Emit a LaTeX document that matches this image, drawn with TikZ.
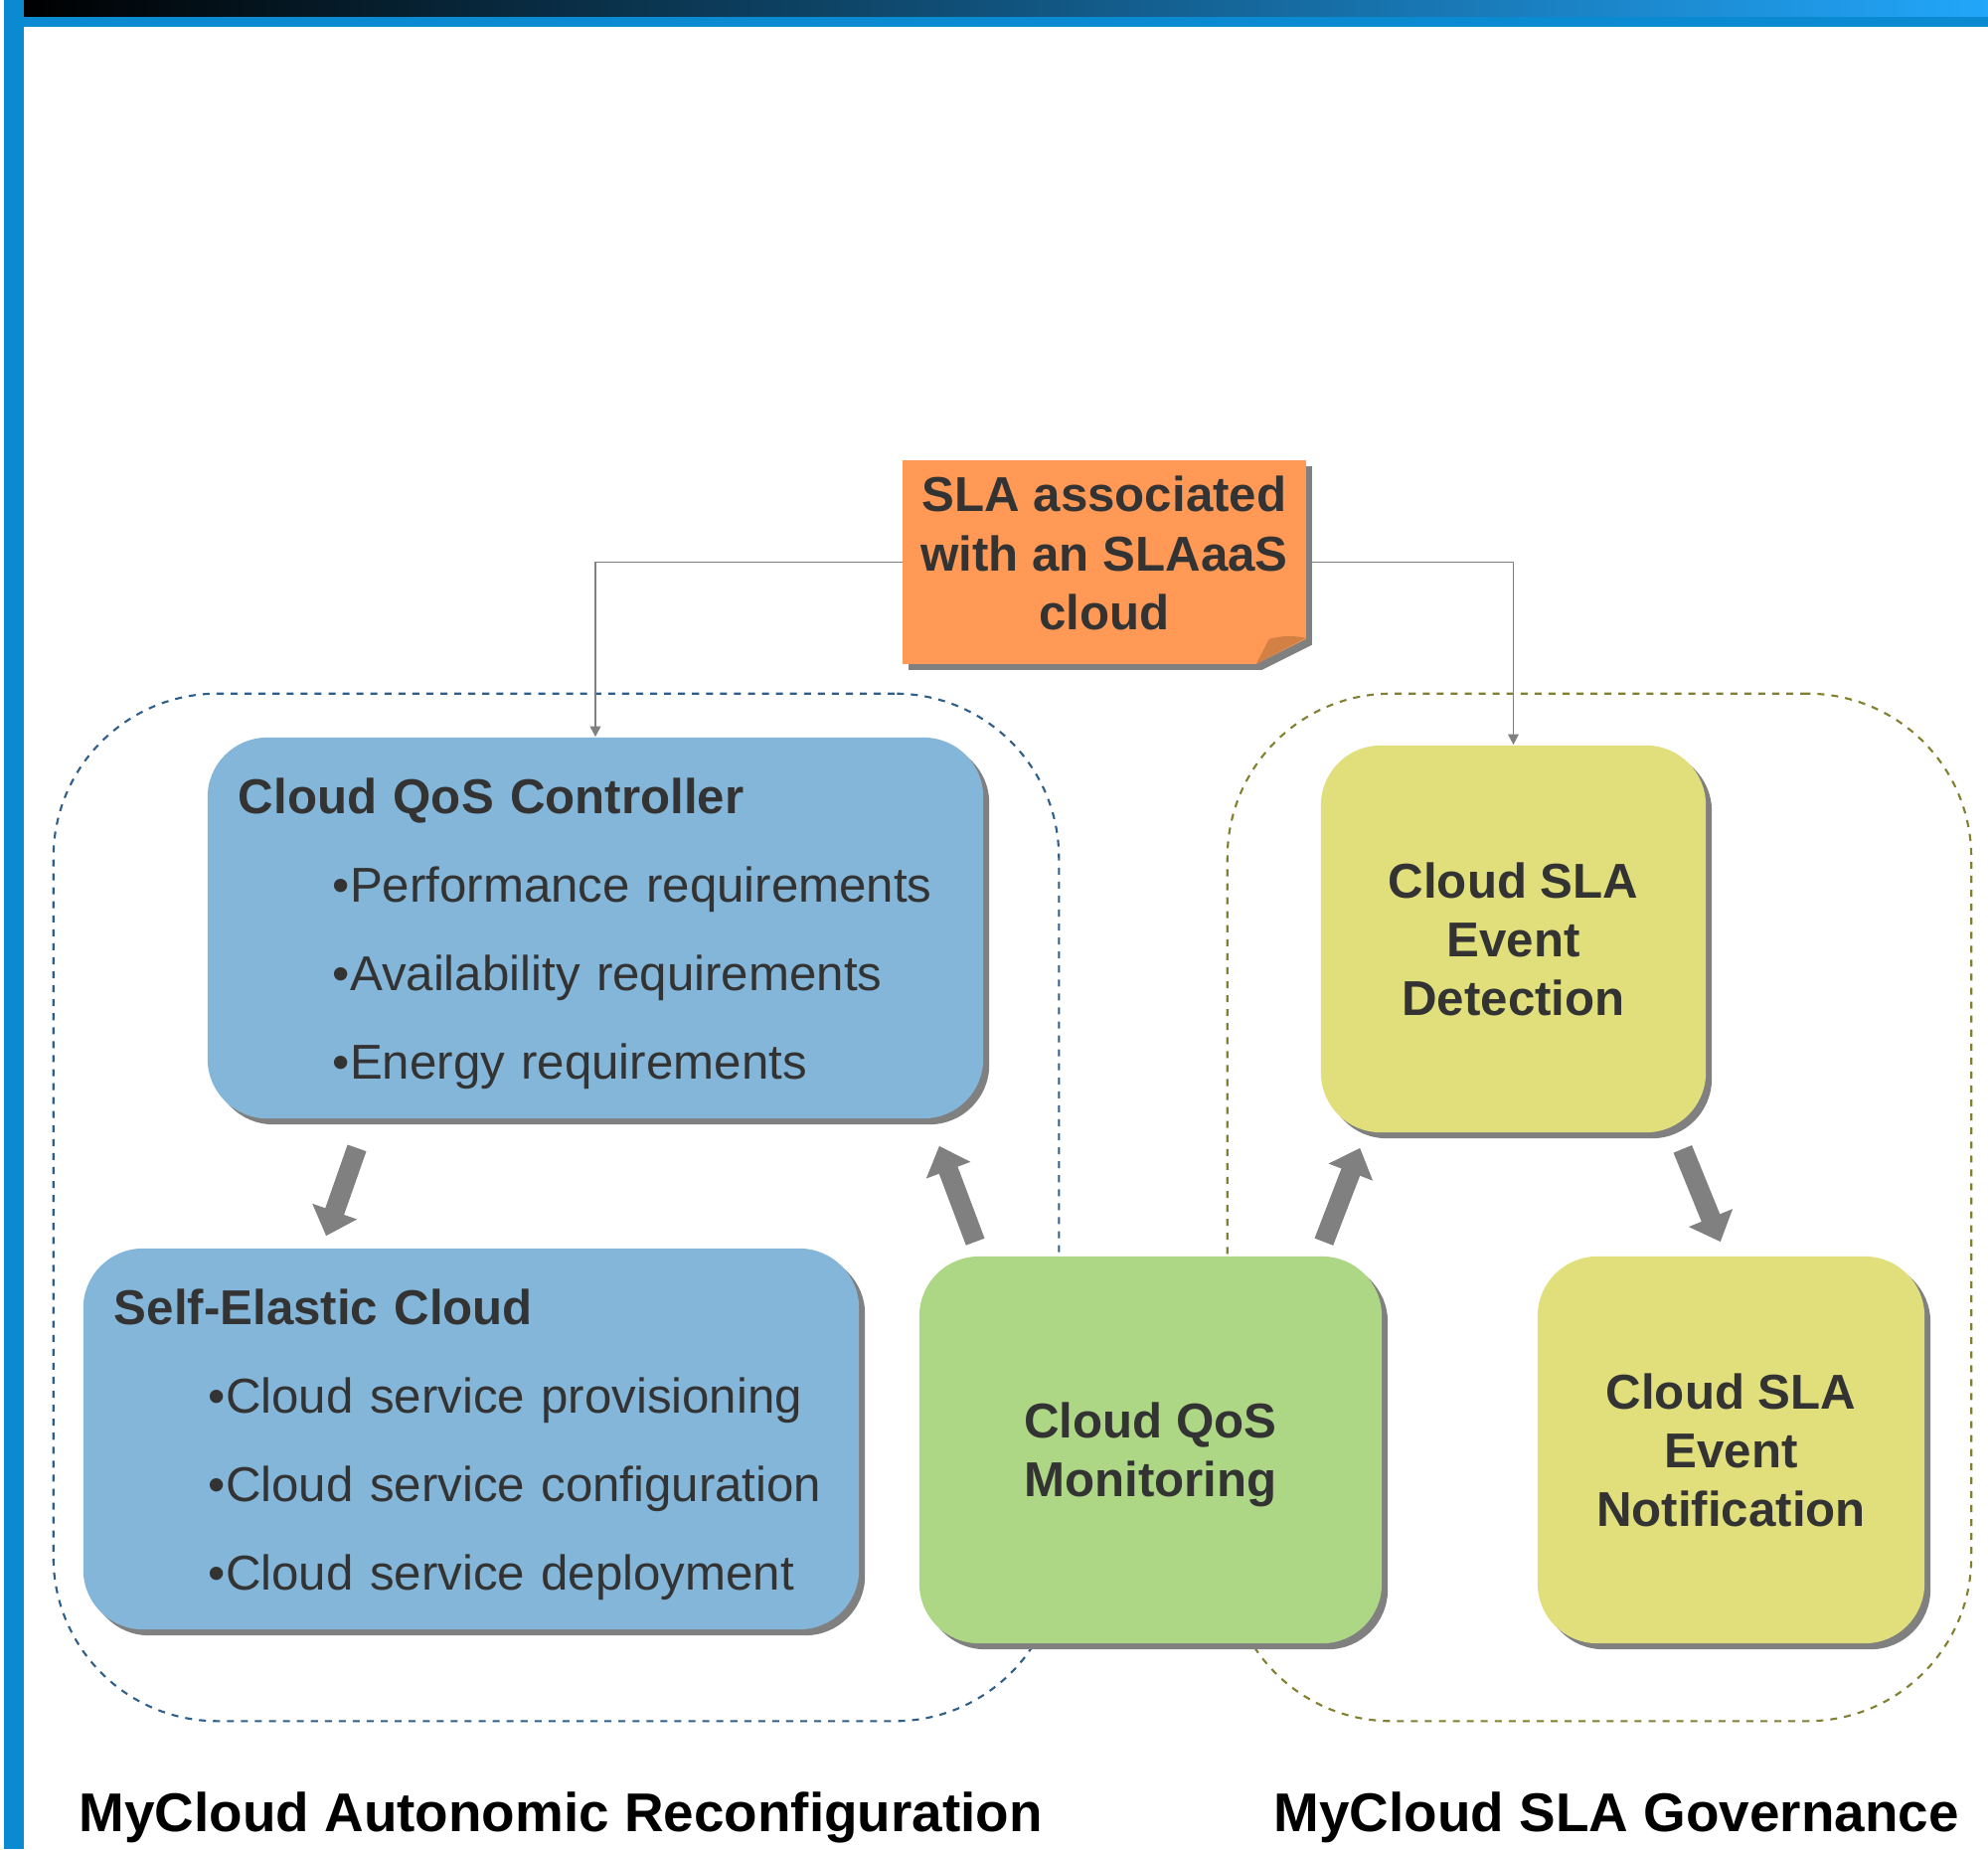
\documentclass[tikz,border=0pt]{standalone}
\usepackage{fontspec}
\setmainfont{Liberation Sans}
\usetikzlibrary{positioning}
\usetikzlibrary{arrows.meta}
\usetikzlibrary{shadows}
\usetikzlibrary{backgrounds}
\definecolor{textgray}{RGB}{51,51,51}
\definecolor{shadowgray}{RGB}{128,128,128}
\definecolor{qosblue}{RGB}{131,182,216}
\definecolor{qosgreen}{RGB}{173,215,133}
\definecolor{slayellow}{RGB}{224,223,124}
\definecolor{noteorange}{RGB}{255,153,85}
\definecolor{notefold}{RGB}{210,128,68}
\definecolor{reconfdash}{RGB}{46,94,138}
\definecolor{govdash}{RGB}{128,128,48}
\definecolor{barblue}{RGB}{10,138,208}
\definecolor{barlight}{RGB}{34,166,250}
\tikzset{>=Stealth}
\tikzset{
  box/.style={rounded corners=0.6cm, text=textgray, inner sep=0pt,
    drop shadow={shadow xshift=0.06cm, shadow yshift=-0.06cm, fill=shadowgray, opacity=1}},
  listbox/.style={box, fill=qosblue, minimum width=7.8cm, minimum height=3.83cm,
    text width=7.18cm, align=left, font=\fontsize{14}{25.3}\selectfont},
  stepbox/.style={box, minimum height=3.89cm, align=center,
    font=\fontsize{14}{16.8}\selectfont\bfseries},
  region/.style={draw=#1, dashed, dash pattern=on 2pt off 2pt, line width=0.6pt,
    rounded corners=1.65cm, minimum height=10.33cm, inner sep=0pt},
  link/.style={draw=shadowgray, line width=0.5pt, -{Triangle[length=3pt,width=3pt]}},
  bigarrow/.style={draw=shadowgray, line width=0.2cm, -{Triangle[length=0.26cm,width=0.46cm]}},
  caption/.style={anchor=base west, inner sep=0pt, font=\fontsize{15.6}{18}\selectfont\bfseries}
}
\begin{document}
\begin{tikzpicture}[x=0.01cm,y=-0.01cm]
  \useasboundingbox (0,0) rectangle (2000,1860);
  % frame
  \shade[left color=black, right color=barlight] (24,0) rectangle (2000,17);
  \fill[barblue] (4,17) rectangle (2000,27);
  \fill[barblue] (4,0) rectangle (24,1860);

  % dashed regions
  \node[region=reconfdash, minimum width=10.11cm] (reconf) at (559.5,1214.5) {};
  \node[region=govdash, minimum width=7.48cm] (gov) at (1609,1214.5) {};

  % SLA note
  \node[minimum width=4.04cm, minimum height=2.03cm, inner sep=0pt, align=center,
        text=textgray, font=\fontsize{14}{17}\selectfont\bfseries] (sla) at (1111,556.5)
        {SLA associated\\with an SLAaaS\\cloud};
  \begin{scope}[on background layer]
    \fill[shadowgray] ([shift={(6,15)}]sla.north west) -- ([shift={(6,15)}]sla.north east)
      -- ([shift={(6,-10)}]sla.south east) -- ([shift={(-44,15)}]sla.south east)
      -- ([shift={(6,15)}]sla.south west) -- cycle;
    \fill[noteorange] ([shift={(0,9)}]sla.north west) -- ([shift={(0,9)}]sla.north east)
      -- ([shift={(0,-16)}]sla.south east) -- ([shift={(-50,9)}]sla.south east)
      -- ([shift={(0,9)}]sla.south west) -- cycle;
    \fill[notefold] ([shift={(-50,9)}]sla.south east) -- ([shift={(-37,-16)}]sla.south east)
      to[bend left=12] ([shift={(0,-17)}]sla.south east) -- cycle;
  \end{scope}

  % boxes
  \node[listbox] (ctrl) at (599,933.5) {\rule{0pt}{13.6pt}\textbf{Cloud QoS Controller}\\
    \hspace*{0.95cm}•Performance requirements\\
    \hspace*{0.95cm}•Availability requirements\\
    \hspace*{0.95cm}•Energy requirements};
  \node[listbox] (elastic) at (474,1447.5) {\rule{0pt}{13.6pt}\textbf{Self-Elastic Cloud}\\
    \hspace*{0.95cm}•Cloud service provisioning\\
    \hspace*{0.95cm}•Cloud service configuration\\
    \hspace*{0.95cm}•Cloud service deployment};
  \node[stepbox, fill=qosgreen, minimum width=4.65cm] (monitor) at (1157.5,1458.5)
    {\rule{0pt}{13pt}Cloud QoS\\Monitoring};
  \node[stepbox, fill=slayellow, minimum width=3.87cm] (detect) at (1522.5,944.5)
    {Cloud SLA\\Event\\Detection};
  \node[stepbox, fill=slayellow, minimum width=3.89cm] (notify) at (1741.5,1458.5)
    {Cloud SLA\\Event\\Notification};

  % connectors
  \draw[link] ([shift={(0,9)}]sla.west) -| (ctrl.north);
  \draw[link] ([shift={(0,9)}]sla.east) -| (detect.north);
  \draw[bigarrow] ([shift={(151,29)}]ctrl.south west) -- ([shift={(245,-12)}]elastic.north west);
  \draw[bigarrow] ([shift={(57,-14)}]monitor.north west) -- ([shift={(-45,27)}]ctrl.south east);
  \draw[bigarrow] ([shift={(-59,-14)}]monitor.north east) -- ([shift={(40,15)}]detect.south west);
  \draw[bigarrow] ([shift={(-24,16)}]detect.south east) -- ([shift={(-206,-14)}]notify.north east);

  \node[caption] (reconflabel) at (79,1842) {MyCloud Autonomic Reconfiguration};
  \node[caption] (govlabel) at (1281,1842) {MyCloud SLA Governance};
\end{tikzpicture}
\end{document}
